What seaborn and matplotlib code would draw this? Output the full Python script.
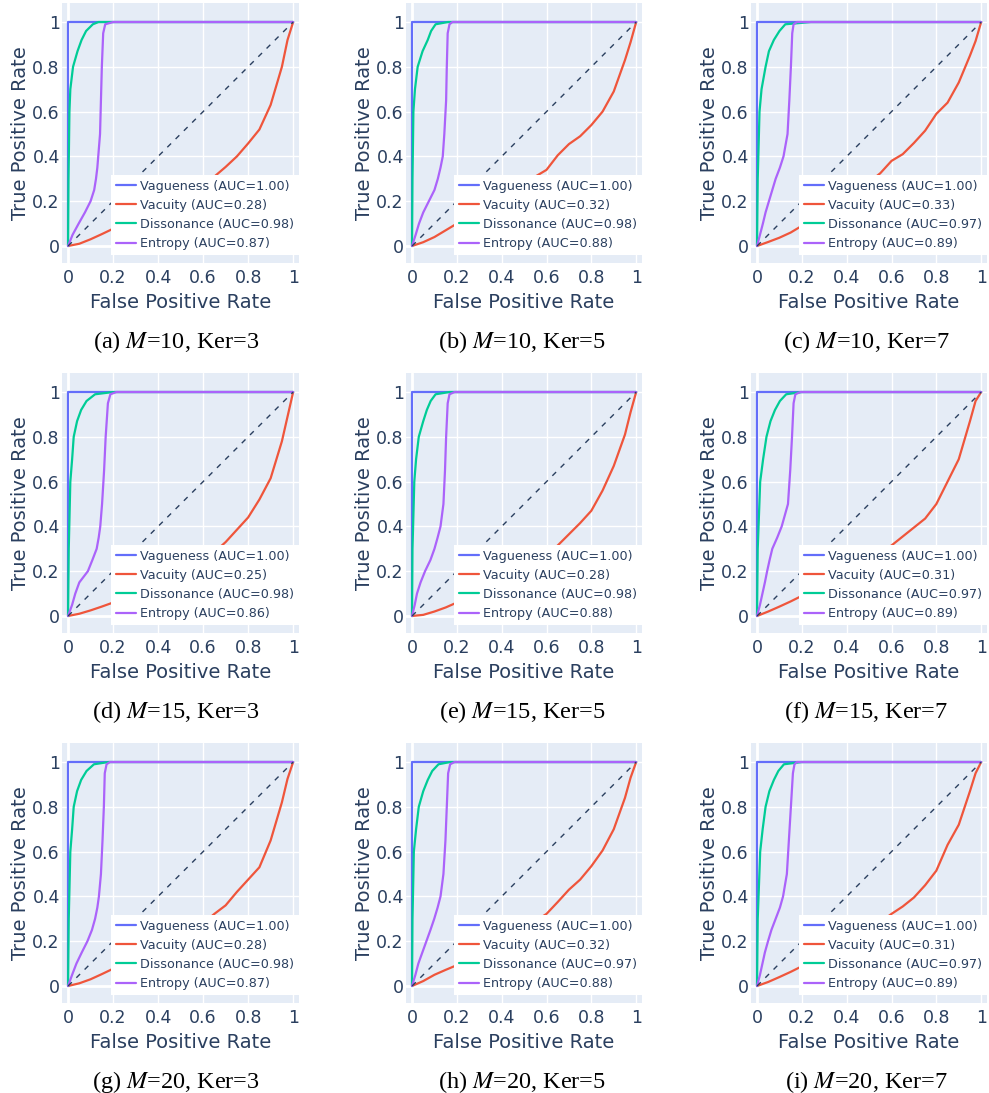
import numpy as np
import pandas as pd
import matplotlib
matplotlib.use("Agg")
import matplotlib.pyplot as plt
import seaborn as sns

# ---------------- data ----------------
panel_letters = ["a", "b", "c", "d", "e", "f", "g", "h", "i"]
panel_M = [10, 10, 10, 15, 15, 15, 20, 20, 20]
panel_ker = [3, 5, 7, 3, 5, 7, 3, 5, 7]

method_names = ["Vagueness", "Vacuity", "Dissonance", "Entropy"]
auc_vagueness = [1.00, 1.00, 1.00, 1.00, 1.00, 1.00, 1.00, 1.00, 1.00]
auc_vacuity = [0.28, 0.32, 0.33, 0.25, 0.28, 0.31, 0.28, 0.32, 0.31]
auc_dissonance = [0.98, 0.98, 0.97, 0.98, 0.98, 0.97, 0.98, 0.97, 0.97]
auc_entropy = [0.87, 0.88, 0.89, 0.86, 0.88, 0.89, 0.87, 0.88, 0.89]

# Vagueness (same in every panel)
vag_fpr = [0.0, 0.0, 1.0]
vag_tpr = [0.0, 1.0, 1.0]

# Vacuity: shared FPR grid, TPR per panel
vac_fpr = [0.0, 0.05, 0.1, 0.15, 0.2, 0.25, 0.3, 0.35, 0.4, 0.45, 0.5,
           0.55, 0.6, 0.65, 0.7, 0.75, 0.8, 0.85, 0.9, 0.95, 0.975, 1.0]
vac_tpr_a = [0, 0.010, 0.030, 0.053, 0.077, 0.098, 0.120, 0.142, 0.165, 0.187, 0.210,
             0.240, 0.270, 0.310, 0.353, 0.400, 0.458, 0.520, 0.630, 0.800, 0.920, 1.0]
vac_tpr_b = [0, 0.017, 0.040, 0.070, 0.100, 0.130, 0.160, 0.190, 0.220, 0.250, 0.280,
             0.310, 0.340, 0.405, 0.455, 0.490, 0.540, 0.600, 0.690, 0.830, 0.910, 1.0]
vac_tpr_c = [0, 0.018, 0.037, 0.060, 0.090, 0.120, 0.150, 0.180, 0.210, 0.250, 0.285,
             0.325, 0.380, 0.410, 0.460, 0.515, 0.590, 0.640, 0.730, 0.850, 0.915, 1.0]
vac_tpr_d = [0, 0.010, 0.025, 0.042, 0.060, 0.078, 0.097, 0.118, 0.140, 0.163, 0.188,
             0.215, 0.245, 0.285, 0.330, 0.385, 0.440, 0.520, 0.615, 0.780, 0.890, 1.0]
vac_tpr_e = [0, 0.005, 0.020, 0.038, 0.060, 0.085, 0.110, 0.135, 0.160, 0.185, 0.212,
             0.240, 0.275, 0.315, 0.365, 0.415, 0.470, 0.560, 0.670, 0.810, 0.910, 1.0]
vac_tpr_f = [0, 0.020, 0.042, 0.065, 0.090, 0.115, 0.140, 0.165, 0.190, 0.215, 0.245,
             0.280, 0.315, 0.355, 0.395, 0.435, 0.500, 0.600, 0.700, 0.870, 0.960, 1.0]
vac_tpr_g = [0, 0.012, 0.030, 0.053, 0.077, 0.100, 0.123, 0.146, 0.170, 0.194, 0.220,
             0.250, 0.280, 0.322, 0.360, 0.420, 0.475, 0.530, 0.650, 0.820, 0.925, 1.0]
vac_tpr_h = [0, 0.022, 0.050, 0.072, 0.093, 0.115, 0.140, 0.165, 0.190, 0.220, 0.255,
             0.290, 0.322, 0.375, 0.430, 0.475, 0.535, 0.605, 0.700, 0.840, 0.930, 1.0]
vac_tpr_i = [0, 0.018, 0.040, 0.063, 0.088, 0.114, 0.140, 0.166, 0.192, 0.220, 0.250,
             0.285, 0.322, 0.355, 0.395, 0.450, 0.515, 0.630, 0.720, 0.870, 0.950, 1.0]

# Dissonance: shared TPR grid, FPR per panel
dis_tpr = [0.0, 0.3, 0.6, 0.7, 0.8, 0.87, 0.92, 0.96, 0.99, 1.0, 1.0]
dis_fpr_a = [0, 0.002, 0.006, 0.010, 0.022, 0.042, 0.060, 0.080, 0.110, 0.135, 1.0]
dis_fpr_b = [0, 0.002, 0.006, 0.013, 0.025, 0.047, 0.070, 0.085, 0.105, 0.160, 1.0]
dis_fpr_c = [0, 0.003, 0.011, 0.020, 0.038, 0.053, 0.075, 0.100, 0.126, 0.240, 1.0]
dis_fpr_d = [0, 0.003, 0.010, 0.018, 0.025, 0.040, 0.058, 0.082, 0.120, 0.200, 1.0]
dis_fpr_e = [0, 0.002, 0.010, 0.018, 0.030, 0.050, 0.066, 0.083, 0.105, 0.167, 1.0]
dis_fpr_f = [0, 0.003, 0.014, 0.027, 0.042, 0.060, 0.080, 0.102, 0.130, 0.200, 1.0]
dis_fpr_g = [0, 0.003, 0.010, 0.018, 0.025, 0.040, 0.058, 0.082, 0.115, 0.180, 1.0]
dis_fpr_h = [0, 0.002, 0.008, 0.018, 0.030, 0.050, 0.070, 0.090, 0.118, 0.170, 1.0]
dis_fpr_i = [0, 0.003, 0.014, 0.025, 0.038, 0.055, 0.075, 0.095, 0.120, 0.200, 1.0]

# Entropy: shared TPR grid, FPR per panel
ent_tpr = [0.0, 0.05, 0.1, 0.15, 0.2, 0.25, 0.3, 0.35, 0.4, 0.5, 0.65, 0.8, 0.95, 0.99, 1.0, 1.0]
ent_fpr_a = [0, 0.020, 0.047, 0.075, 0.100, 0.116, 0.124, 0.130, 0.134, 0.142, 0.146, 0.150, 0.156, 0.165, 0.200, 1.0]
ent_fpr_b = [0, 0.016, 0.031, 0.050, 0.075, 0.100, 0.115, 0.127, 0.137, 0.144, 0.152, 0.155, 0.159, 0.167, 0.180, 1.0]
ent_fpr_c = [0, 0.013, 0.026, 0.038, 0.053, 0.068, 0.083, 0.102, 0.118, 0.136, 0.144, 0.151, 0.157, 0.163, 0.178, 1.0]
ent_fpr_d = [0, 0.018, 0.032, 0.050, 0.088, 0.108, 0.127, 0.136, 0.143, 0.151, 0.160, 0.167, 0.177, 0.188, 0.215, 1.0]
ent_fpr_e = [0, 0.012, 0.022, 0.038, 0.058, 0.082, 0.100, 0.114, 0.127, 0.140, 0.147, 0.152, 0.159, 0.167, 0.190, 1.0]
ent_fpr_f = [0, 0.013, 0.024, 0.035, 0.045, 0.056, 0.068, 0.090, 0.110, 0.138, 0.148, 0.156, 0.163, 0.171, 0.193, 1.0]
ent_fpr_g = [0, 0.018, 0.037, 0.061, 0.086, 0.106, 0.120, 0.130, 0.137, 0.146, 0.153, 0.159, 0.163, 0.171, 0.186, 1.0]
ent_fpr_h = [0, 0.015, 0.028, 0.046, 0.064, 0.082, 0.099, 0.114, 0.127, 0.140, 0.149, 0.155, 0.161, 0.170, 0.190, 1.0]
ent_fpr_i = [0, 0.013, 0.024, 0.035, 0.049, 0.064, 0.083, 0.102, 0.116, 0.133, 0.142, 0.151, 0.160, 0.167, 0.178, 1.0]

tick_values = [0, 0.2, 0.4, 0.6, 0.8, 1.0]
tick_labels = ["0", "0.2", "0.4", "0.6", "0.8", "1"]
chance_line = [0.0, 1.0]

vac_tprs = [vac_tpr_a, vac_tpr_b, vac_tpr_c, vac_tpr_d, vac_tpr_e, vac_tpr_f, vac_tpr_g, vac_tpr_h, vac_tpr_i]
dis_fprs = [dis_fpr_a, dis_fpr_b, dis_fpr_c, dis_fpr_d, dis_fpr_e, dis_fpr_f, dis_fpr_g, dis_fpr_h, dis_fpr_i]
ent_fprs = [ent_fpr_a, ent_fpr_b, ent_fpr_c, ent_fpr_d, ent_fpr_e, ent_fpr_f, ent_fpr_g, ent_fpr_h, ent_fpr_i]

# ---------------- style ----------------
sns.set_theme(style="darkgrid")
plt.rcParams["font.family"] = ["DejaVu Sans"]
plt.rcParams["mathtext.fontset"] = "stix"

TXT = "#2a3f5f"
BG = "#E5ECF6"
colors = {"Vagueness": "#636EFA", "Vacuity": "#EF553B",
          "Dissonance": "#00CC96", "Entropy": "#AB63FA"}

W, H = 989, 1093
fig = plt.figure(figsize=(W / 100, H / 100), dpi=100)
fig.patch.set_facecolor("white")

col_left = [62, 406, 751]
col_width = [237, 236, 236]
row_top = [3, 373, 743]
row_h = 260
cap_x = [176, 522, 866]
cap_y = [342, 712, 1082]

for k in range(9):
    r, c = divmod(k, 3)
    ax = fig.add_axes([col_left[c] / W, 1 - (row_top[r] + row_h) / H,
                       col_width[c] / W, row_h / H])
    ax.set_facecolor(BG)
    for s in ax.spines.values():
        s.set_visible(False)

    curves = [
        ("Vagueness", vag_fpr, vag_tpr, auc_vagueness[k]),
        ("Vacuity", vac_fpr, vac_tprs[k], auc_vacuity[k]),
        ("Dissonance", dis_fprs[k], dis_tpr, auc_dissonance[k]),
        ("Entropy", ent_fprs[k], ent_tpr, auc_entropy[k]),
    ]
    for name, fx, ty, auc in curves:
        df = pd.DataFrame({"fpr": fx, "tpr": ty})
        sns.lineplot(data=df, x="fpr", y="tpr", sort=False, estimator=None,
                     color=colors[name], linewidth=1.6, ax=ax,
                     label=f"{name} (AUC={auc:.2f})", zorder=2)

    ax.plot(chance_line, chance_line, color=TXT, lw=1.0,
            linestyle=(0, (3.8, 4.6)), zorder=3)

    ax.set_xlim(-0.027, 1.026)
    ax.set_ylim(-0.076, 1.085)
    ax.set_xticks(tick_values)
    ax.set_xticklabels(tick_labels)
    ax.set_yticks(tick_values)
    ax.set_yticklabels(tick_labels)
    ax.grid(True, color="white", linewidth=1.0, zorder=0)
    ax.axhline(0, color="white", lw=2, zorder=1)
    ax.axvline(0, color="white", lw=2, zorder=1)
    ax.set_axisbelow(True)
    ax.tick_params(axis="both", length=0, labelsize=12.5, colors=TXT)
    ax.tick_params(axis="x", pad=4.0)
    ax.tick_params(axis="y", pad=1.6)

    ax.set_xlabel("False Positive Rate", fontsize=14, color=TXT, va="center")
    ax.set_ylabel("True Positive Rate", fontsize=14, color=TXT, va="center")
    ax.xaxis.set_label_coords(0.5, -0.15)
    ax.yaxis.set_label_coords(-0.175, 0.5)

    leg = ax.legend(loc="lower right", bbox_to_anchor=(1.0, 0.031),
                    borderaxespad=0, frameon=True, fancybox=False,
                    facecolor="white", edgecolor="none", framealpha=1.0,
                    fontsize=9.2, handlelength=1.6, handletextpad=0.3,
                    borderpad=0.38, labelspacing=0.48)
    for t in leg.get_texts():
        t.set_color(TXT)
    leg.set_zorder(5)

    fig.text(cap_x[c] / W, 1 - cap_y[r] / H,
             f"({panel_letters[k]}) $M$=" + f"{panel_M[k]}, Ker={panel_ker[k]}",
             ha="center", va="center", fontsize=17.5, family="Liberation Serif",
             color="black")

fig.savefig("out.png", dpi=100)
